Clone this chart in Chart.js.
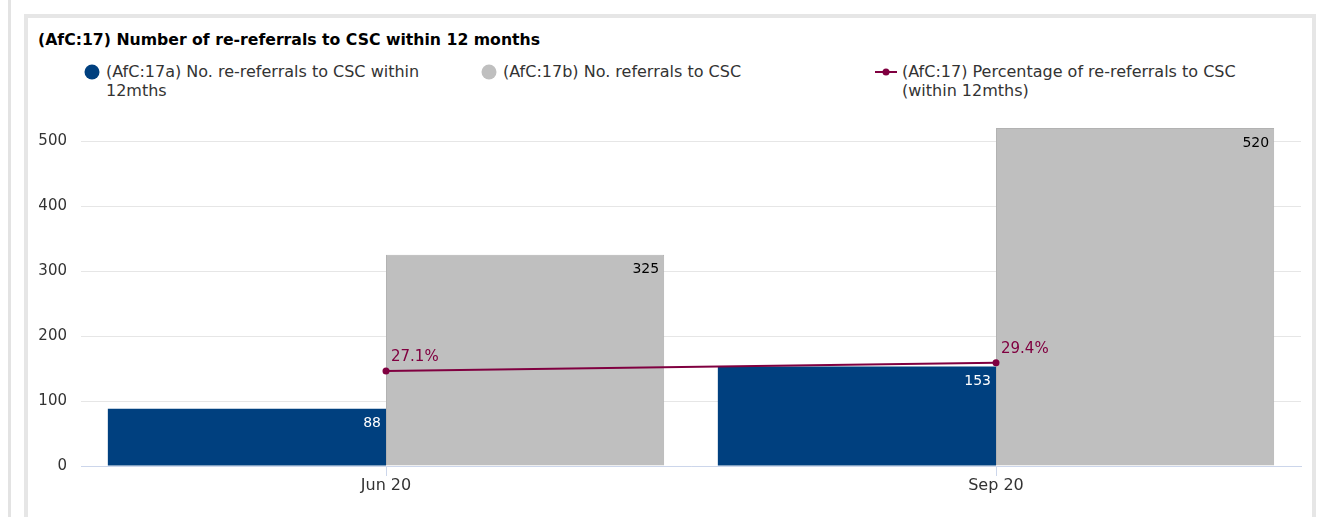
<!DOCTYPE html>
<html>
<head>
<meta charset="utf-8">
<script src="https://cdn.jsdelivr.net/npm/chart.js@4/dist/chart.umd.min.js"></script>
<style>
  html, body { margin: 0; padding: 0; background: #fff; }
  body { width: 1325px; height: 517px; position: relative; overflow: hidden; font-family: "DejaVu Sans", Verdana, sans-serif; }
  .edge { position: absolute; left: 8px; top: 0; width: 3px; height: 517px; background: #e3e3e3; }
  .card { position: absolute; left: 24px; top: 14px; width: 1284px; height: 520px; border: 4px solid #e6e6e6; background: #fff; }
  .title { position: absolute; left: 38px; top: 31px; font-size: 15.7px; font-weight: bold; color: #000; line-height: 18px; }
  .legend-item { position: absolute; top: 62px; font-size: 16px; color: #333; line-height: 19px; }
  .legend-item .txt { display: inline-block; vertical-align: top; }
  .legend-item .mark { position: absolute; top: 2px; }
  .chart-box { position: absolute; left: 28px; top: 100px; width: 1282px; height: 417px; }
</style>
</head>
<body>
<div class="edge"></div>
<div class="card"></div>
<div class="title" id="title"></div>
<div id="legend"></div>
<div class="chart-box"><canvas id="chart"></canvas></div>
<script>
  const chartTitle = '(AfC:17) Number of re-referrals to CSC within 12 months'
  const categories = ['Jun 20', 'Sep 20']
  const reReferrals = [88, 153]
  const referrals = [325, 520]
  const percentage = [27.1, 29.4]
  const yTicks = [0, 100, 200, 300, 400, 500]

  const seriesNames = [
    '(AfC:17a) No. re-referrals to CSC within 12mths',
    '(AfC:17b) No. referrals to CSC',
    '(AfC:17) Percentage of re-referrals to CSC (within 12mths)'
  ]
  const blue = '#00407f'
  const grey = '#bfbfbf'
  const maroon = '#800040'
  const fontFamily = '"DejaVu Sans", Verdana, sans-serif'

  document.getElementById('title').textContent = chartTitle

  // HTML legend, built from the series names
  const legendSpots = [
    { left: 106, width: 330, type: 'dot', color: blue },
    { left: 503, width: 330, type: 'dot', color: grey },
    { left: 902, width: 345, type: 'line', color: maroon }
  ]
  const legend = document.getElementById('legend')
  seriesNames.forEach((name, i) => {
    const spot = legendSpots[i]
    const item = document.createElement('div')
    item.className = 'legend-item'
    item.style.left = spot.left + 'px'
    let mark
    if (spot.type === 'dot') {
      mark = `<svg class="mark" style="left:-22px" width="16" height="16"><circle cx="8" cy="8" r="7.5" fill="${spot.color}"/></svg>`
    } else {
      mark = `<svg class="mark" style="left:-27px" width="22" height="16"><line x1="0" y1="8" x2="22" y2="8" stroke="${spot.color}" stroke-width="2"/><circle cx="11" cy="8" r="3.5" fill="${spot.color}"/></svg>`
    }
    item.innerHTML = mark + '<span class="txt"></span>'
    const txt = item.querySelector('.txt')
    txt.style.maxWidth = spot.width + 'px'
    txt.textContent = name
    legend.appendChild(item)
  })

  // value labels on bars and line points
  const valueLabels = {
    id: 'valueLabels',
    afterDatasetsDraw(chart) {
      const ctx = chart.ctx
      ctx.save()
      chart.data.datasets.forEach((ds, di) => {
        const meta = chart.getDatasetMeta(di)
        meta.data.forEach((el, i) => {
          const v = ds.data[i]
          if (ds.type === 'line') {
            ctx.font = '15px ' + fontFamily
            ctx.fillStyle = maroon
            ctx.textAlign = 'left'
            ctx.textBaseline = 'middle'
            ctx.fillText(v.toFixed(1) + '%', el.x + 5, el.y - 14)
          } else {
            ctx.font = '14px ' + fontFamily
            ctx.fillStyle = ds.labelColor
            ctx.textAlign = 'right'
            ctx.textBaseline = 'middle'
            ctx.fillText(String(v), el.x + el.width / 2 - 5, el.y + 15)
          }
        })
      })
      ctx.restore()
    }
  }

  new Chart(document.getElementById('chart'), {
    data: {
      labels: categories,
      datasets: [
        {
          type: 'line',
          label: seriesNames[2],
          data: percentage,
          yAxisID: 'y1',
          borderColor: maroon,
          backgroundColor: maroon,
          borderWidth: 2,
          pointRadius: 3.5,
          pointBorderWidth: 0,
          tension: 0,
          order: 0
        },
        {
          type: 'bar',
          label: seriesNames[0],
          data: reReferrals,
          backgroundColor: blue,
          borderWidth: 0,
          labelColor: '#fff',
          categoryPercentage: 0.912,
          barPercentage: 1,
          order: 1
        },
        {
          type: 'bar',
          label: seriesNames[1],
          data: referrals,
          backgroundColor: grey,
          borderColor: '#b2b2b2',
          borderWidth: 1,
          labelColor: '#000',
          categoryPercentage: 0.912,
          barPercentage: 1,
          order: 1
        }
      ]
    },
    options: {
      responsive: true,
      maintainAspectRatio: false,
      animation: false,
      layout: { padding: { top: 15, right: 9, left: 0, bottom: 0 } },
      plugins: {
        legend: { display: false },
        tooltip: { enabled: false }
      },
      scales: {
        x: {
          grid: {
            offset: false,
            drawOnChartArea: false,
            tickLength: 10,
            color: '#ccd6eb'
          },
          border: { color: '#ccd6eb' },
          ticks: { color: '#333', font: { family: fontFamily, size: 16 }, padding: 0 },
          afterFit(scale) { scale.height = 51 }
        },
        y: {
          min: 0,
          max: 540,
          grid: { color: '#e6e6e6', drawTicks: false },
          border: { display: false },
          ticks: { color: '#333', font: { family: fontFamily, size: 15 }, padding: 14, stepSize: 100 },
          afterBuildTicks(scale) {
            scale.ticks = yTicks.map(v => ({ value: v }))
          },
          afterFit(scale) {
            scale.width = 53
            // labels never sit at the very top, so no extra room needed
            scale.paddingTop = 0
            scale.paddingBottom = 0
          }
        },
        y1: {
          display: false,
          min: 0,
          max: 100
        }
      }
    },
    plugins: [valueLabels]
  })
</script>
</body>
</html>
